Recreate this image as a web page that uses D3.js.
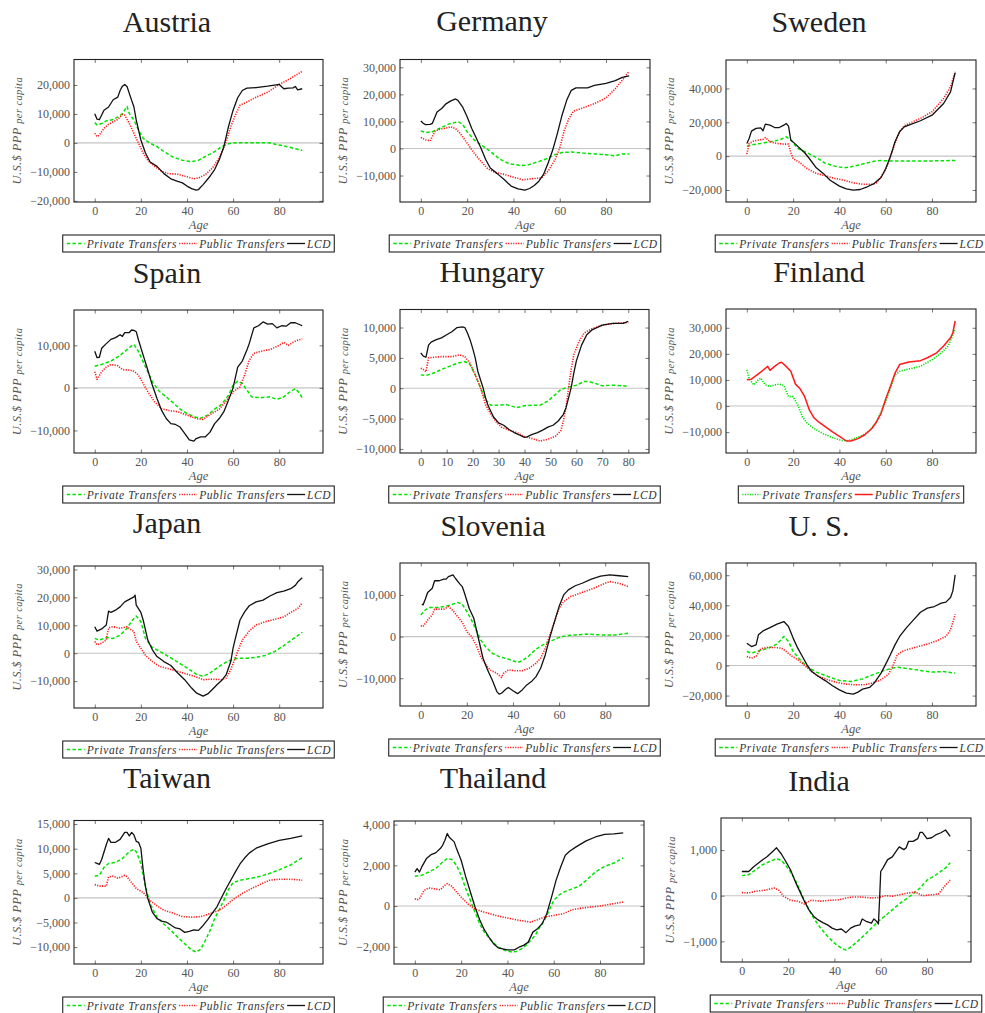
<!DOCTYPE html>
<html>
<head>
<meta charset="utf-8">
<script src="https://cdn.jsdelivr.net/npm/d3@7"></script>
<style>
  body { margin: 0; background: #fff; }
  text { font-family: "Liberation Serif", "Times New Roman", serif; }
</style>
</head>
<body>
<svg id="chart" width="985" height="1013"></svg>
<script>
// ---- Age profiles, US$ PPP per capita: [age, value] ----
const austriaPrivate = [[0,7000],[1,6200],[3,6700],[5,7600],[8,8100],[10,9000],[12,10100],[14,12600],[15,10100],[17,7900],[19,4400],[21,1600],[24,-100],[27,-1300],[30,-3000],[34,-4900],[38,-6000],[42,-6500],[45,-6000],[48,-4700],[52,-3000],[55,-1300],[58,-300],[60,0],[65,100],[70,100],[75,100],[80,-700],[85,-1600],[90,-2600]];
const austriaPublic = [[0,3300],[1,2200],[2,2700],[4,5000],[6,6500],[8,7300],[10,8100],[12,9800],[13,9600],[15,6700],[17,3300],[19,-100],[21,-3500],[23,-6000],[26,-8100],[29,-9800],[32,-10600],[36,-10800],[40,-11700],[43,-12400],[45,-12100],[48,-10900],[51,-8700],[54,-5200],[57,500],[59,5600],[61,9600],[63,13000],[66,14100],[70,15800],[75,17500],[80,20200],[85,22300],[90,24700]];
const austriaLCD = [[0,10100],[1,8200],[2,8000],[4,11300],[6,12400],[8,14900],[10,15800],[11,18100],[12,19600],[13,20200],[14,19500],[16,14700],[17,12400],[18,7900],[20,1000],[22,-3500],[24,-6600],[27,-8100],[30,-10600],[33,-12400],[36,-13300],[38,-13800],[40,-14900],[42,-15800],[44,-16300],[45,-16100],[47,-14400],[50,-11500],[52,-9200],[54,-5800],[56,-1300],[58,5600],[60,11300],[62,15600],[64,18100],[66,18900],[70,19100],[75,19600],[80,20200],[82,18700],[84,18900],[86,19000],[87,19500],[88,18300],[90,18700]];

const germanyPrivate = [[0,6500],[2,5900],[5,6200],[8,7400],[12,9000],[16,9900],[18,9000],[20,6200],[23,3200],[26,1300],[30,-1100],[34,-3900],[38,-5600],[43,-6300],[46,-6200],[50,-5100],[54,-3900],[58,-2300],[61,-1500],[65,-1300],[70,-1700],[75,-2000],[80,-2300],[84,-2700],[87,-2000],[90,-2000]];
const germanyPublic = [[0,4100],[2,3200],[4,2800],[6,6200],[8,7100],[10,7400],[13,8000],[15,7300],[17,5600],[20,2000],[23,-1700],[26,-4800],[29,-7600],[32,-8800],[36,-9600],[40,-10600],[44,-11600],[48,-11200],[52,-10900],[55,-8400],[58,-4100],[60,100],[62,6800],[64,11100],[66,13800],[70,15000],[75,16600],[80,18700],[84,22100],[88,26300],[90,28500]];
const germanyLCD = [[0,10200],[1,9300],[2,8800],[4,8900],[5,9300],[7,13500],[9,14800],[11,16600],[13,17600],[15,18300],[16,17800],[18,15400],[20,11700],[22,7400],[24,3800],[26,100],[28,-4100],[30,-7200],[33,-9300],[36,-11500],[39,-13900],[42,-14900],[45,-15400],[47,-14800],[49,-13700],[51,-12100],[53,-9600],[55,-5400],[57,-500],[59,5600],[61,12300],[63,17800],[65,21500],[67,22400],[72,22400],[75,23300],[80,24100],[84,25100],[87,26300],[90,26800]];

const swedenPrivate = [[0,5900],[3,6900],[6,7500],[10,8500],[14,9500],[17,11400],[19,9500],[22,4500],[26,2000],[30,-800],[34,-4300],[38,-5900],[42,-6900],[45,-6300],[50,-4700],[55,-3000],[58,-2600],[62,-2800],[70,-2800],[80,-2800],[90,-2600]];
const swedenPublic = [[0,1200],[1,7500],[3,8900],[5,9500],[7,9900],[8,11000],[10,8500],[13,7500],[16,7100],[18,7100],[19,2000],[20,-1400],[23,-3900],[26,-7300],[30,-10200],[34,-11600],[38,-13200],[42,-14200],[46,-15800],[50,-16600],[54,-16600],[56,-15800],[58,-12200],[60,-7900],[62,-400],[64,7500],[66,14400],[68,17900],[70,19300],[75,22300],[80,26200],[85,34100],[88,41000],[90,49800]];
const swedenLCD = [[0,7500],[1,10400],[2,14800],[4,16400],[6,16700],[7,15000],[8,18900],[10,18300],[12,16900],[14,16900],[16,18300],[17,19300],[18,17700],[19,9500],[21,7100],[23,4500],[25,2000],[27,-1400],[30,-6900],[33,-10200],[36,-14200],[40,-17700],[43,-19300],[46,-20100],[49,-19700],[52,-18100],[55,-16200],[58,-12600],[60,-7300],[62,-400],[64,8500],[66,14400],[68,17300],[70,18300],[75,20900],[80,24200],[85,31100],[88,38000],[90,49300]];

const spainPrivate = [[0,5100],[3,5500],[7,6300],[10,7300],[13,8500],[16,9900],[17,10200],[19,8500],[21,6100],[23,3800],[25,1400],[28,-800],[31,-2100],[34,-3500],[37,-5000],[40,-6000],[43,-6800],[46,-7100],[49,-6400],[52,-5000],[55,-3900],[58,-1700],[60,600],[62,1600],[64,1000],[66,-500],[68,-2100],[72,-2300],[76,-2100],[79,-2700],[82,-2100],[85,-800],[87,-200],[89,-1300],[90,-2500]];
const spainPublic = [[0,3800],[1,2000],[3,3800],[5,4900],[7,5500],[10,5200],[12,4300],[15,4200],[17,3900],[19,3000],[21,1000],[23,-900],[26,-3300],[29,-4900],[32,-5300],[36,-5600],[40,-6400],[44,-7200],[47,-7400],[50,-6300],[54,-5000],[57,-3100],[60,-900],[63,200],[65,3000],[67,6500],[69,8100],[72,8600],[76,9000],[80,10000],[82,10700],[84,10000],[86,10700],[88,11200],[90,11500]];
const spainLCD = [[0,8600],[1,7100],[2,7200],[3,9300],[5,10400],[7,11400],[9,11800],[11,12500],[12,12100],[13,13000],[15,13000],[16,13600],[17,13500],[18,13200],[19,11200],[21,7700],[23,4200],[25,600],[27,-2500],[29,-5300],[31,-7200],[33,-8400],[35,-8600],[37,-9200],[39,-10700],[41,-12200],[43,-12500],[44,-11900],[46,-11500],[48,-11500],[50,-10400],[52,-8400],[54,-7200],[56,-5600],[58,-2900],[60,0],[62,4900],[64,6300],[66,8900],[67,10400],[69,14100],[71,14600],[73,15500],[75,15000],[77,15100],[79,14100],[81,14600],[83,14500],[85,15300],[87,15300],[90,14600]];

const hungaryPrivate = [[0,2200],[2,2100],[5,2500],[8,3100],[11,3600],[14,4100],[17,4400],[19,3900],[21,2200],[23,100],[25,-1900],[27,-2800],[30,-2800],[33,-2700],[37,-3200],[40,-2900],[43,-2800],[46,-2800],[49,-2100],[52,-1000],[54,-200],[57,200],[60,500],[63,1100],[65,1100],[68,700],[70,400],[74,500],[78,400],[80,300]];
const hungaryPublic = [[0,3300],[1,3100],[2,2700],[3,5000],[5,5100],[8,5200],[12,5200],[15,5500],[17,5200],[19,4100],[21,2200],[23,100],[25,-2700],[27,-4300],[29,-5500],[31,-6400],[34,-6900],[37,-7300],[40,-8000],[43,-8300],[46,-8700],[49,-8400],[52,-7900],[54,-7000],[55,-5400],[56,-3200],[57,100],[58,3100],[59,5500],[61,7700],[63,9100],[66,9800],[70,10400],[75,10700],[80,10800]];
const hungaryLCD = [[0,5800],[1,5300],[2,5100],[3,7100],[4,7600],[6,8000],[8,8300],[10,8800],[12,9300],[14,10000],[16,10100],[17,10000],[18,9100],[19,8000],[20,6600],[21,5000],[22,2800],[24,100],[25,-1600],[26,-2900],[27,-3800],[28,-4700],[30,-5700],[32,-6100],[34,-6800],[36,-7300],[38,-7700],[40,-8100],[41,-8000],[43,-7600],[45,-7300],[47,-6900],[49,-6400],[51,-6100],[53,-5400],[55,-4300],[56,-3200],[57,-1600],[58,100],[59,2500],[60,4500],[62,7100],[64,8800],[66,9600],[70,10400],[74,10700],[78,10700],[80,11000]];

const finlandPrivate = [[0,13900],[1,10500],[3,8100],[5,10100],[6,10700],[8,8100],[10,7500],[12,8100],[14,8400],[16,7900],[18,3600],[20,3600],[22,400],[24,-4100],[26,-6500],[29,-8600],[33,-10600],[37,-12100],[41,-13200],[44,-13200],[47,-12300],[50,-11200],[53,-9400],[56,-6100],[58,-2200],[60,1700],[62,6800],[64,12000],[66,13300],[70,14200],[75,15200],[80,17800],[84,20400],[87,23000],[90,29400]];
const finlandPublic = [[0,10100],[2,10300],[4,11700],[6,13000],[8,14500],[9,15200],[10,13700],[12,15200],[14,16500],[15,16800],[17,15200],[19,13300],[21,8400],[23,6600],[25,3600],[27,-1500],[29,-4500],[31,-6100],[34,-8000],[37,-9900],[40,-11600],[43,-13400],[45,-13400],[48,-12500],[51,-11000],[54,-8600],[56,-6100],[58,-2800],[60,2700],[62,7500],[64,12600],[66,15900],[70,16900],[75,17400],[78,18500],[82,20400],[85,23000],[88,26200],[89,28100],[90,32600]];

const japanPrivate = [[0,5300],[2,4700],[5,5600],[8,5300],[11,6500],[14,8900],[16,11500],[18,13300],[20,11300],[22,5300],[25,2000],[28,800],[32,-1200],[36,-3200],[40,-5300],[44,-7500],[47,-8300],[50,-7100],[54,-4700],[58,-2700],[62,-1800],[66,-1800],[70,-1500],[74,-800],[78,600],[82,2700],[86,5100],[90,7500]];
const japanPublic = [[0,4200],[1,3000],[3,3600],[5,4700],[6,9100],[8,9500],[11,8900],[14,9500],[16,8300],[17,7700],[18,4200],[20,1800],[22,-800],[25,-3000],[28,-4700],[32,-5600],[36,-6500],[40,-7500],[44,-8500],[47,-9500],[51,-9300],[55,-9500],[57,-8900],[59,-5900],[62,600],[64,4700],[67,7900],[70,10100],[74,11300],[78,12100],[82,13000],[85,14600],[88,16000],[90,18000]];
const japanLCD = [[0,9500],[1,7900],[3,8700],[5,10100],[6,15100],[7,14600],[9,15400],[11,16600],[13,18400],[15,19300],[17,20200],[17.5,20800],[18,17200],[20,14600],[21,11900],[23,4700],[25,1200],[27,-1200],[30,-3000],[33,-4400],[36,-7100],[39,-9500],[42,-12500],[44,-14200],[47,-15400],[49,-14600],[51,-13000],[53,-11300],[55,-9800],[57,-7700],[59,-3000],[60,1800],[61,5300],[63,11900],[65,14800],[67,17000],[70,18400],[73,19000],[76,20500],[79,21700],[82,22200],[85,23100],[87,24300],[88,25500],[90,27000]];

const sloveniaPrivate = [[0,5200],[2,6400],[4,7000],[7,7000],[10,7200],[13,7600],[16,8200],[18,7800],[20,6000],[22,4000],[24,1600],[26,-800],[28,-2400],[31,-4000],[34,-4800],[38,-5400],[42,-6200],[44,-5800],[47,-4600],[50,-3000],[53,-2000],[56,-1200],[60,-200],[63,200],[67,400],[72,600],[78,400],[84,400],[90,800]];
const sloveniaPublic = [[0,2600],[1,2400],[3,4000],[5,5200],[6,6600],[8,6600],[10,6600],[12,7200],[14,6200],[16,4800],[18,3400],[20,1200],[22,0],[24,-2000],[26,-4800],[28,-6600],[30,-8000],[33,-8800],[35,-9800],[36,-8800],[38,-8000],[41,-8200],[44,-8200],[47,-7600],[50,-6400],[52,-5200],[54,-2800],[56,400],[58,3600],[60,6800],[62,8400],[65,9600],[70,10600],[75,11600],[80,12800],[82,13200],[86,12800],[90,12000]];
const sloveniaLCD = [[0.5,7800],[1,7600],[2,9000],[3,10600],[5,11600],[6,13400],[8,13400],[10,13800],[11,13800],[12,14400],[14,14800],[15,14000],[17,12600],[18,12000],[19,10400],[21,6800],[23,4400],[25,-400],[27,-5200],[29,-8000],[31,-10400],[33,-13200],[34,-13800],[35,-13600],[37,-12600],[38,-12200],[40,-13000],[42,-13700],[44,-12800],[46,-11600],[48,-10800],[50,-9600],[52,-7600],[54,-4400],[56,-200],[58,3600],[60,7200],[62,10000],[64,11200],[67,12200],[70,12800],[74,13800],[78,14500],[82,14800],[86,14600],[90,14400]];

const usPrivate = [[0,9300],[2,8200],[4,9300],[7,10400],[10,12000],[13,14200],[16,19300],[18,15900],[20,9300],[23,3800],[26,-700],[30,-4400],[35,-7300],[40,-10000],[45,-10600],[50,-8900],[55,-5800],[60,-2900],[65,-1100],[70,-2200],[75,-3300],[80,-4400],[85,-4000],[90,-5100]];
const usPublic = [[0,6000],[2,4900],[4,6000],[6,11100],[9,12000],[12,12000],[15,11500],[17,9300],[19,6600],[22,3800],[25,0],[28,-4000],[31,-7300],[35,-9500],[39,-11300],[43,-12400],[47,-12800],[51,-12800],[54,-11700],[58,-9500],[61,-6200],[63,-700],[65,7100],[67,9300],[70,10900],[74,12600],[78,14200],[82,16400],[86,19300],[88,23700],[90,34100]];
const usLCD = [[0,14800],[2,12600],[4,13700],[5,20400],[7,23000],[10,25200],[13,27500],[16,29200],[18,25900],[20,18200],[22,11500],[24,6000],[26,400],[28,-4000],[31,-7300],[34,-10200],[37,-13500],[40,-16200],[43,-18400],[46,-19000],[48,-17700],[50,-15700],[53,-14600],[55,-11700],[58,-5100],[60,900],[62,7100],[64,13700],[66,19300],[69,25200],[72,30300],[75,35400],[78,38100],[81,39200],[84,41400],[86,42100],[88,45200],[89,49600],[90,60200]];

const taiwanPrivate = [[0,4400],[2,4600],[4,6200],[6,7000],[9,7200],[12,8000],[15,9400],[17,9900],[18,9400],[20,7000],[22,2300],[24,-1200],[27,-3900],[30,-5300],[33,-6600],[36,-8000],[39,-9300],[42,-10600],[44,-11000],[46,-10400],[48,-8600],[50,-6600],[52,-4200],[54,-2400],[56,-500],[58,1700],[60,3100],[63,3600],[68,4000],[72,4400],[76,5000],[80,5700],[85,6700],[90,8200]];
const taiwanPublic = [[0,2700],[2,2400],[5,2400],[6,4300],[8,4400],[10,4000],[13,4600],[14,4300],[16,3100],[18,1900],[21,1100],[24,-500],[27,-1600],[30,-2500],[34,-3100],[38,-3800],[42,-3900],[46,-3800],[50,-3200],[54,-2500],[57,-1500],[60,-300],[64,900],[68,1900],[72,2800],[76,3600],[80,3800],[85,3800],[90,3600]];
const taiwanLCD = [[0,7200],[1,7000],[2,6800],[3,7800],[5,10800],[6,12100],[7,11300],[9,11300],[11,11900],[13,13300],[14,13300],[15,12600],[16,13300],[17,12800],[18,11500],[19,11300],[20,10100],[21,5700],[22,2300],[23,-100],[25,-2900],[27,-4200],[29,-4700],[31,-4900],[33,-5500],[35,-6100],[37,-6300],[39,-7000],[41,-6800],[43,-6500],[45,-6600],[47,-5600],[49,-4400],[51,-3100],[53,-1800],[55,100],[57,1900],[59,3600],[61,5300],[63,6900],[65,8100],[67,9100],[70,10100],[75,11000],[80,11700],[85,12100],[90,12600]];

const thailandPrivate = [[0,1460],[3,1510],[6,1670],[9,1840],[12,2160],[14,2330],[16,2280],[18,2000],[20,1510],[22,850],[24,280],[26,-300],[28,-870],[30,-1280],[33,-1690],[36,-2020],[39,-2180],[42,-2260],[44,-2230],[46,-2100],[48,-1930],[50,-1690],[52,-1440],[54,-1030],[56,-700],[58,-210],[60,280],[62,520],[65,720],[68,850],[71,970],[74,1260],[78,1670],[82,1950],[86,2110],[90,2360]];
const thailandPublic = [[0,360],[1,310],[2,360],[4,770],[6,890],[8,850],[11,800],[13,1020],[14,1100],[16,970],[18,690],[20,440],[23,110],[26,-160],[30,-300],[35,-460],[40,-590],[45,-700],[50,-790],[53,-670],[56,-540],[60,-460],[64,-380],[68,-180],[72,-100],[76,-50],[80,0],[84,80],[88,160],[90,200]];
const thailandLCD = [[0,1670],[1,1840],[2,1670],[3,1920],[5,2330],[7,2520],[9,2610],[11,2820],[12,2980],[13,3230],[14,3560],[15,3360],[16,3260],[17,3150],[18,2820],[20,2250],[22,1430],[24,690],[26,-50],[28,-670],[30,-1160],[32,-1520],[34,-1850],[36,-2050],[38,-2100],[40,-2150],[43,-2150],[45,-2020],[47,-1930],[49,-1770],[51,-1280],[53,-1110],[55,-870],[57,-380],[59,410],[61,1260],[63,1920],[65,2490],[67,2700],[70,2930],[74,3200],[78,3390],[82,3520],[86,3540],[90,3590]];

const indiaPrivate = [[0,440],[3,460],[6,570],[9,680],[12,750],[15,810],[17,780],[19,660],[21,530],[23,350],[25,130],[27,-90],[29,-310],[31,-490],[34,-710],[37,-890],[40,-1040],[43,-1150],[45,-1190],[47,-1130],[50,-1000],[53,-860],[56,-710],[59,-560],[62,-440],[65,-310],[68,-180],[71,-70],[74,40],[77,170],[80,340],[84,460],[88,610],[90,720]];
const indiaPublic = [[0,70],[3,60],[6,100],[10,120],[14,170],[16,120],[18,-10],[21,-100],[24,-120],[27,-180],[30,-100],[34,-120],[38,-100],[42,-90],[45,-50],[48,-30],[52,-30],[56,-50],[59,-40],[62,0],[65,-10],[68,20],[72,60],[75,80],[78,0],[82,20],[85,40],[87,170],[89,290],[90,340]];
const indiaLCD = [[0,530],[3,530],[5,630],[8,750],[11,860],[14,1000],[15,1050],[17,920],[19,750],[21,570],[23,320],[25,100],[27,-120],[29,-310],[31,-450],[33,-530],[35,-590],[37,-640],[39,-710],[41,-750],[43,-730],[45,-810],[47,-710],[49,-660],[51,-640],[52,-510],[54,-570],[56,-600],[57,-510],[58,-550],[59,-620],[59.5,-90],[60,530],[61,610],[63,790],[65,850],[67,1000],[68,1070],[70,1010],[71,1050],[72,1190],[74,1190],[76,1250],[77,1390],[78,1390],[80,1250],[82,1270],[84,1340],[86,1380],[88,1440],[90,1300]];

// ---- Tick values ----
const ageTicks = [0, 20, 40, 60, 80];
const hungaryAgeTicks = [0, 10, 20, 30, 40, 50, 60, 70, 80];
const austriaTicks = [-20000, -10000, 0, 10000, 20000];
const germanyTicks = [-10000, 0, 10000, 20000, 30000];
const swedenTicks = [-20000, 0, 20000, 40000];
const spainTicks = [-10000, 0, 10000];
const hungaryTicks = [-10000, -5000, 0, 5000, 10000];
const finlandTicks = [-10000, 0, 10000, 20000, 30000];
const japanTicks = [-10000, 0, 10000, 20000, 30000];
const sloveniaTicks = [-10000, 0, 10000];
const usTicks = [-20000, 0, 20000, 40000, 60000];
const taiwanTicks = [-10000, -5000, 0, 5000, 10000, 15000];
const thailandTicks = [-2000, 0, 2000, 4000];
const indiaTicks = [-1000, 0, 1000];

// ---- Series styles ----
const styleDefault = [
  { key: "private", label: "Private Transfers", color: "#00e400", dash: "3.5,2.2", width: 1.5 },
  { key: "public",  label: "Public Transfers",  color: "#ff1a1a", dash: "1.2,1.3", width: 1.6 },
  { key: "lcd",     label: "LCD",               color: "#111",    dash: null,      width: 1.3 }
];
const styleFinland = [
  { key: "private", label: "Private Transfers", color: "#00e400", dash: "1.2,1.3", width: 1.6 },
  { key: "public",  label: "Public Transfers",  color: "#ff1a1a", dash: null,      width: 1.5 }
];

const panels = [
  { name: "Austria",  series: { private: austriaPrivate,  public: austriaPublic,  lcd: austriaLCD },  yTicks: austriaTicks,  xTicks: ageTicks, styles: styleDefault },
  { name: "Germany",  series: { private: germanyPrivate,  public: germanyPublic,  lcd: germanyLCD },  yTicks: germanyTicks,  xTicks: ageTicks, styles: styleDefault },
  { name: "Sweden",   series: { private: swedenPrivate,   public: swedenPublic,   lcd: swedenLCD },   yTicks: swedenTicks,   xTicks: ageTicks, styles: styleDefault },
  { name: "Spain",    series: { private: spainPrivate,    public: spainPublic,    lcd: spainLCD },    yTicks: spainTicks,    xTicks: ageTicks, styles: styleDefault },
  { name: "Hungary",  series: { private: hungaryPrivate,  public: hungaryPublic,  lcd: hungaryLCD },  yTicks: hungaryTicks,  xTicks: hungaryAgeTicks, styles: styleDefault },
  { name: "Finland",  series: { private: finlandPrivate,  public: finlandPublic },                    yTicks: finlandTicks,  xTicks: ageTicks, styles: styleFinland },
  { name: "Japan",    series: { private: japanPrivate,    public: japanPublic,    lcd: japanLCD },    yTicks: japanTicks,    xTicks: ageTicks, styles: styleDefault },
  { name: "Slovenia", series: { private: sloveniaPrivate, public: sloveniaPublic, lcd: sloveniaLCD }, yTicks: sloveniaTicks, xTicks: ageTicks, styles: styleDefault },
  { name: "U. S.",    series: { private: usPrivate,       public: usPublic,       lcd: usLCD },       yTicks: usTicks,       xTicks: ageTicks, styles: styleDefault },
  { name: "Taiwan",   series: { private: taiwanPrivate,   public: taiwanPublic,   lcd: taiwanLCD },   yTicks: taiwanTicks,   xTicks: ageTicks, styles: styleDefault },
  { name: "Thailand", series: { private: thailandPrivate, public: thailandPublic, lcd: thailandLCD }, yTicks: thailandTicks, xTicks: ageTicks, styles: styleDefault },
  { name: "India",    series: { private: indiaPrivate,    public: indiaPublic,    lcd: indiaLCD },    yTicks: indiaTicks,    xTicks: ageTicks, styles: styleDefault }
];

// Plot-box geometry for each panel: left, top, width, height, title centre x, title baseline y
const layout = [
  [74, 59.5, 249, 142.5, 167, 32],  [400, 59.5, 250, 142.5, 492, 31],  [726, 60, 250, 142, 819, 32],
  [74, 310, 249, 143, 167, 283],    [400, 309.5, 249, 143.5, 492, 282], [726, 309, 250, 144, 819, 282],
  [74, 566, 249, 142, 167, 533],    [400, 563, 249, 143, 493, 536],     [726, 563, 250, 143, 819, 536],
  [74, 820.5, 249, 143.5, 167, 788],[394, 821, 250, 143, 493, 788],     [721, 818, 250, 144, 819, 791]
];

const svg = d3.select("#chart");
const fmt = d3.format(",");
const enlarge = e => { const r = e[1] - e[0]; return [e[0] - 0.1 * r, e[1] + 0.1 * r]; };

panels.forEach((p, i) => {
  const [bx, by, bw, bh, tx, ty] = layout[i];
  const g = svg.append("g").attr("class", "panel");
  const allPts = p.styles.flatMap(s => p.series[s.key]);

  const x = d3.scaleLinear().domain(enlarge(d3.extent(allPts, d => d[0]))).range([bx, bx + bw]);
  const y = d3.scaleLinear().domain(enlarge(d3.extent(allPts, d => d[1]))).range([by + bh, by]);

  // title
  g.append("text").attr("x", tx).attr("y", ty).attr("text-anchor", "middle")
    .attr("font-size", 30).attr("fill", "#222").text(p.name);

  // zero line
  g.append("line").attr("x1", bx).attr("x2", bx + bw).attr("y1", y(0)).attr("y2", y(0))
    .attr("stroke", "#c4c4c4").attr("stroke-width", 1.1);

  // series
  const line = d3.line().x(d => x(d[0])).y(d => y(d[1]));
  p.styles.forEach(s => {
    g.append("path").datum(p.series[s.key]).attr("d", line)
      .attr("fill", "none").attr("stroke", s.color).attr("stroke-width", s.width)
      .attr("stroke-dasharray", s.dash).attr("stroke-linejoin", "round");
  });

  // axes: ticks point inward on all four sides
  const styleAxis = sel => {
    sel.select(".domain").remove();
    sel.selectAll(".tick line").attr("stroke", "#555").attr("stroke-width", 0.8);
    sel.selectAll(".tick text").attr("fill", "#555").attr("font-size", 12)
      .attr("font-family", "'Liberation Serif', serif");
  };
  g.append("g").attr("transform", `translate(0,${by + bh})`)
    .call(d3.axisBottom(x).tickValues(p.xTicks).tickSize(-3.5).tickPadding(4.5).tickFormat(d3.format("d")))
    .call(styleAxis);
  g.append("g").attr("transform", `translate(0,${by})`)
    .call(d3.axisTop(x).tickValues(p.xTicks).tickSize(-3.5).tickFormat(""))
    .call(styleAxis);
  const yAxisG = g.append("g").attr("transform", `translate(${bx},0)`)
    .call(d3.axisLeft(y).tickValues(p.yTicks).tickSize(-3.5).tickPadding(4).tickFormat(fmt))
    .call(styleAxis);
  g.append("g").attr("transform", `translate(${bx + bw},0)`)
    .call(d3.axisRight(y).tickValues(p.yTicks).tickSize(-3.5).tickFormat(""))
    .call(styleAxis);

  // frame
  g.append("rect").attr("x", bx).attr("y", by).attr("width", bw).attr("height", bh)
    .attr("fill", "none").attr("stroke", "#222").attr("stroke-width", 1.1);

  // x label
  g.append("text").attr("x", bx + bw / 2).attr("y", by + bh + 27).attr("text-anchor", "middle")
    .attr("font-size", 12.5).attr("font-style", "italic").attr("fill", "#555").text("Age");

  // y label, placed left of the widest tick label
  let maxW = 0;
  yAxisG.selectAll(".tick text").each(function () { maxW = Math.max(maxW, this.getComputedTextLength()); });
  const lx = bx - 4 - maxW - 15, ly = by + bh / 2;
  const yl = g.append("text").attr("transform", `translate(${lx},${ly}) rotate(-90)`)
    .attr("text-anchor", "middle").attr("dy", "0.35em").attr("font-style", "italic").attr("fill", "#555")
    .attr("letter-spacing", 0.4);
  yl.append("tspan").attr("font-size", 12.5).text("U.S.$ PPP ");
  yl.append("tspan").attr("font-size", 10.5).attr("dy", 1).text("per capita");

  // legend
  const leg = g.append("g");
  let cx = 4;
  p.styles.forEach((s, k) => {
    leg.append("line").attr("x1", cx).attr("x2", cx + 18)
      .attr("stroke", s.color).attr("stroke-width", s.width).attr("stroke-dasharray", s.dash);
    const t = leg.append("text").attr("x", cx + 20).attr("font-size", 11.5).attr("font-style", "italic")
      .attr("letter-spacing", 0.6).attr("fill", "#333").text(s.label);
    cx += 20 + t.node().getComputedTextLength() + (k < p.styles.length - 1 ? 2 : 3);
  });
  const lw = cx, lh = 17;
  const lx0 = bx + bw / 2 - lw / 2, ly0 = by + bh + 33;
  leg.attr("transform", `translate(${lx0},${ly0})`);
  leg.selectAll("line").attr("y1", lh / 2).attr("y2", lh / 2);
  leg.selectAll("text").attr("y", lh / 2 + 4);
  leg.insert("rect", ":first-child").attr("width", lw).attr("height", lh)
    .attr("fill", "#fff").attr("stroke", "#222").attr("stroke-width", 1.1);
});
</script>
</body>
</html>
